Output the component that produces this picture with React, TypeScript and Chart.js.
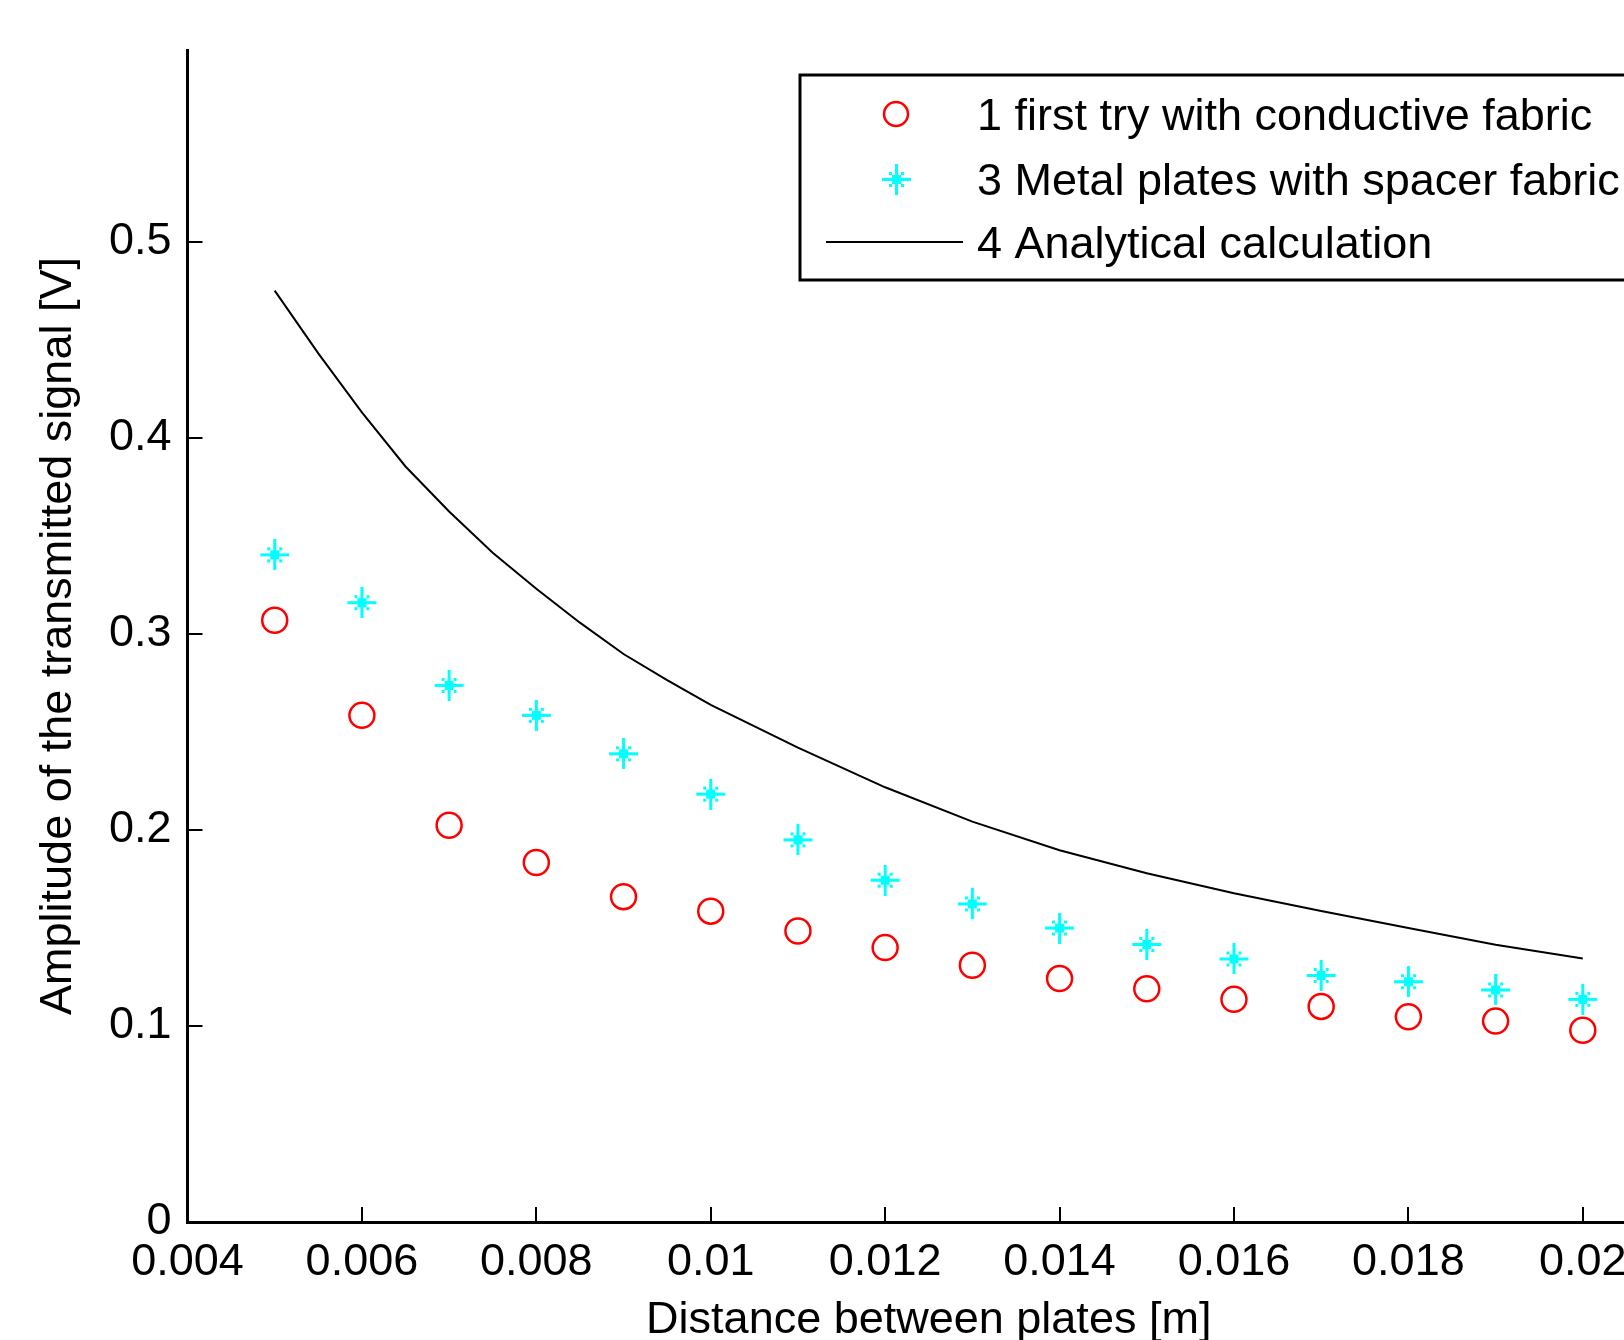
import React, { useEffect, useRef } from "react";
import { Chart, registerables } from "chart.js";

Chart.register(...registerables);

// ---- data ----
const distances = [0.005, 0.006, 0.007, 0.008, 0.009, 0.01, 0.011, 0.012, 0.013, 0.014, 0.015, 0.016, 0.017, 0.018, 0.019, 0.02];
const firstTry = [0.307, 0.2585, 0.2024, 0.1834, 0.166, 0.1586, 0.1485, 0.14, 0.131, 0.1242, 0.119, 0.1136, 0.11, 0.1047, 0.1025, 0.0978];
const metalPlates = [0.3404, 0.316, 0.2738, 0.2585, 0.2389, 0.2183, 0.195, 0.1744, 0.1623, 0.15, 0.1416, 0.1342, 0.1258, 0.1226, 0.1184, 0.1136];

const analyticalX = [0.005, 0.0055, 0.006, 0.0065, 0.007, 0.0075, 0.008, 0.0085, 0.009, 0.0095, 0.01, 0.011, 0.012, 0.013, 0.014, 0.015, 0.016, 0.017, 0.018, 0.019, 0.02];
const analytical = [0.4752, 0.4432, 0.4131, 0.3855, 0.3625, 0.3415, 0.3231, 0.3058, 0.2898, 0.2765, 0.2638, 0.242, 0.2218, 0.2043, 0.1897, 0.1779, 0.1677, 0.1587, 0.15, 0.1415, 0.1345];

const seriesNames = [
  "1 first try with conductive fabric",
  "3 Metal plates with spacer fabric",
  "4 Analytical calculation",
];

const xTickValues = [0.004, 0.006, 0.008, 0.01, 0.012, 0.014, 0.016, 0.018, 0.02];
const xTickLabels = ["0.004", "0.006", "0.008", "0.01", "0.012", "0.014", "0.016", "0.018", "0.02"];
const yTickValues = [0, 0.1, 0.2, 0.3, 0.4, 0.5];
const yTickLabels = ["0", "0.1", "0.2", "0.3", "0.4", "0.5"];

const xTitle = "Distance between plates [m]";
const yTitle = "Amplitude of the transmitted signal [V]";

const FONT_FAMILY = '"Liberation Sans", Arial, Helvetica, sans-serif';
const FONT_SIZE = 45;

function makeStar(color: string): HTMLCanvasElement {
  const c = document.createElement("canvas");
  const s = 31;
  c.width = s;
  c.height = s;
  const ctx = c.getContext("2d")!;
  ctx.fillStyle = color;
  const m = Math.floor(s / 2);
  ctx.fillRect(m - 1, 0, 3, s);
  ctx.fillRect(1, m - 1, s - 2, 3);
  ctx.fillRect(m - 4, m - 4, 9, 9);
  const d = 6;
  ctx.fillRect(m - d - 1, m - d - 1, 3, 3);
  ctx.fillRect(m + d - 1, m - d - 1, 3, 3);
  ctx.fillRect(m - d - 1, m + d - 1, 3, 3);
  ctx.fillRect(m + d - 1, m + d - 1, 3, 3);
  return c;
}

export default function App() {
  const canvasRef = useRef<HTMLCanvasElement | null>(null);

  useEffect(() => {
    const canvas = canvasRef.current;
    if (!canvas) return;
    const star = makeStar("#00ffff");

    const insideTicks = {
      id: "insideTicks",
      afterDraw(chart: any) {
        const { ctx, chartArea, scales } = chart;
        ctx.save();
        ctx.strokeStyle = "#000";
        ctx.lineWidth = 2;
        ctx.beginPath();
        xTickValues.forEach((v) => {
          const px = Math.round(scales.x.getPixelForValue(v));
          ctx.moveTo(px, chartArea.bottom);
          ctx.lineTo(px, chartArea.bottom - 15);
        });
        yTickValues.forEach((v) => {
          const py = Math.round(scales.y.getPixelForValue(v));
          ctx.moveTo(chartArea.left, py);
          ctx.lineTo(chartArea.left + 15, py);
        });
        ctx.stroke();
        ctx.restore();
      },
    };

    const boxLegend = {
      id: "boxLegend",
      afterDraw(chart: any) {
        const { ctx } = chart;
        ctx.save();
        const bx = 800, by = 75, bw = 870, bh = 205;
        ctx.fillStyle = "#fff";
        ctx.fillRect(bx, by, bw, bh);
        ctx.strokeStyle = "#000";
        ctx.lineWidth = 3;
        ctx.strokeRect(bx, by, bw, bh);

        const mx = 896;
        const rows = [118, 183, 246];
        ctx.strokeStyle = "#ff0000";
        ctx.lineWidth = 2.5;
        ctx.beginPath();
        ctx.arc(mx, 114, 12, 0, Math.PI * 2);
        ctx.stroke();
        ctx.drawImage(star, Math.round(mx - star.width / 2), Math.round(179 - star.height / 2));
        ctx.strokeStyle = "#000";
        ctx.lineWidth = 2;
        ctx.beginPath();
        ctx.moveTo(826, 242);
        ctx.lineTo(963, 242);
        ctx.stroke();

        ctx.fillStyle = "#000";
        ctx.font = `${FONT_SIZE}px ${FONT_FAMILY}`;
        ctx.textAlign = "left";
        ctx.textBaseline = "middle";
        seriesNames.forEach((name, i) => {
          ctx.fillText(name, 977, rows[i]);
        });
        ctx.restore();
      },
    };

    const tickFont = { family: FONT_FAMILY, size: FONT_SIZE, lineHeight: 1.2 };
    const titleFont = { family: FONT_FAMILY, size: FONT_SIZE, lineHeight: 1 };

    const chart = new Chart(canvas, {
      type: "scatter",
      data: {
        datasets: [
          {
            label: seriesNames[2],
            data: analyticalX.map((x, i) => ({ x, y: analytical[i] })),
            showLine: true,
            borderColor: "#000000",
            borderWidth: 2,
            pointRadius: 0,
            tension: 0,
            fill: false,
          },
          {
            label: seriesNames[0],
            data: distances.map((x, i) => ({ x, y: firstTry[i] })),
            showLine: false,
            pointStyle: "circle",
            pointRadius: 12.5,
            borderColor: "#ff0000",
            backgroundColor: "rgba(0,0,0,0)",
            borderWidth: 2.5,
          },
          {
            label: seriesNames[1],
            data: distances.map((x, i) => ({ x, y: metalPlates[i] })),
            showLine: false,
            pointStyle: star as any,
            pointRadius: 15,
            borderColor: "#00ffff",
            backgroundColor: "#00ffff",
          },
        ],
      },
      options: {
        animation: false,
        responsive: false,
        maintainAspectRatio: false,
        devicePixelRatio: 1,
        layout: { padding: { top: 50, right: 30, left: 0, bottom: 0 } },
        plugins: {
          legend: { display: false },
          tooltip: { enabled: false },
        },
        scales: {
          x: {
            type: "linear",
            min: 0.004,
            max: 0.021,
            afterBuildTicks: (s: any) => {
              s.ticks = xTickValues.map((v) => ({ value: v }));
            },
            afterFit: (s: any) => {
              s.height = 118;
            },
            grid: { display: false, drawTicks: false },
            border: { display: true, color: "#000", width: 3 },
            ticks: {
              color: "#000",
              font: tickFont,
              padding: 14,
              maxRotation: 0,
              autoSkip: false,
              callback: (v: any) => {
                const i = xTickValues.findIndex((t) => Math.abs(t - Number(v)) < 1e-9);
                return i >= 0 ? xTickLabels[i] : "";
              },
            },
            title: {
              display: true,
              text: xTitle,
              color: "#000",
              font: titleFont,
              padding: { top: 0, bottom: -3 },
            },
          },
          y: {
            type: "linear",
            min: 0,
            max: 0.598,
            afterBuildTicks: (s: any) => {
              s.ticks = yTickValues.map((v) => ({ value: v }));
            },
            afterFit: (s: any) => {
              s.width = 187.5;
            },
            grid: { display: false, drawTicks: false },
            border: { display: true, color: "#000", width: 3 },
            ticks: {
              color: "#000",
              font: tickFont,
              padding: 16,
              autoSkip: false,
              callback: (v: any) => {
                const i = yTickValues.findIndex((t) => Math.abs(t - Number(v)) < 1e-9);
                return i >= 0 ? yTickLabels[i] : "";
              },
            },
            title: {
              display: true,
              text: yTitle,
              color: "#000",
              font: titleFont,
              padding: { top: 36, bottom: 0 },
            },
          },
        },
      },
      plugins: [insideTicks, boxLegend],
    });

    return () => {
      chart.destroy();
    };
  }, []);

  return (
    <div
      style={{
        position: "fixed",
        left: 0,
        top: 0,
        width: 1624,
        height: 1340,
        overflow: "hidden",
        background: "#fff",
      }}
    >
      <canvas
        ref={canvasRef}
        width={1700}
        height={1340}
        style={{ display: "block", width: 1700, height: 1340 }}
      />
    </div>
  );
}
